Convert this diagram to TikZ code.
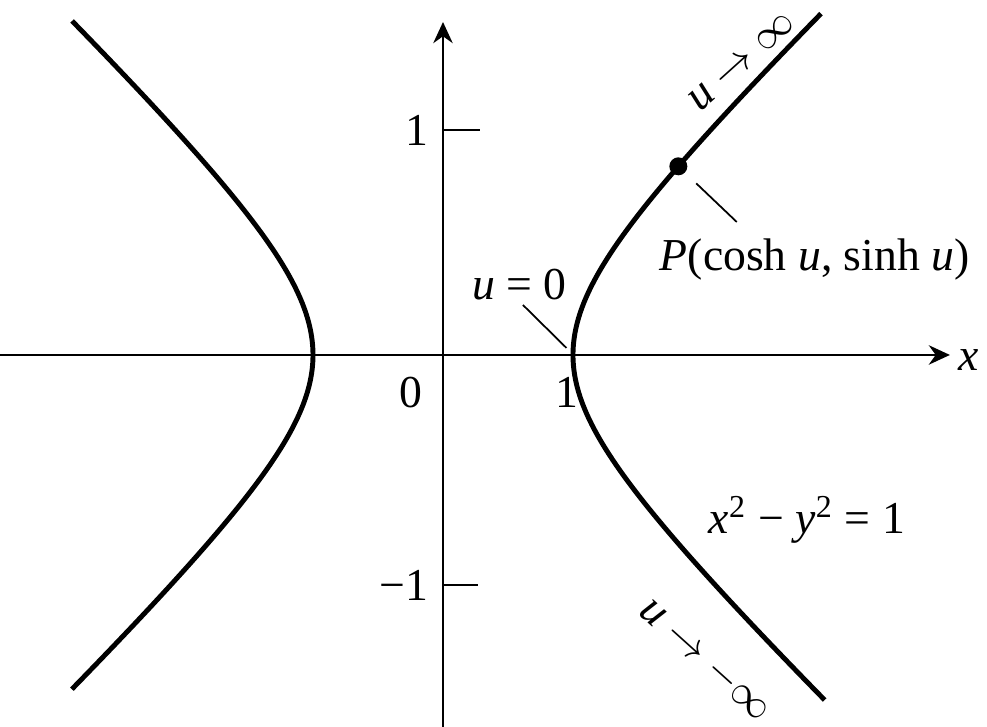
\documentclass[tikz,border=0pt]{standalone}
\usepackage{fontspec}
\setmainfont{Liberation Serif}
\usetikzlibrary{arrows.meta}
\tikzset{
  axis/.style={line width=0.8pt,-{Stealth[length=6pt,width=5.5pt]}},
  branch/.style={line width=1.4pt,samples=90,smooth,variable=\u},
  tickmark/.style={line width=0.8pt},
  leader/.style={line width=0.5pt},
  lbl/.style={font=\fontsize{13}{15}\selectfont,inner sep=1pt},
  dot/.style={circle,fill,inner sep=0pt,minimum size=0.18cm}
}
\newcommand{\var}[1]{\textit{#1}}

\begin{document}
\begin{tikzpicture}[x=1.3cm,y=1.25cm]
\useasboundingbox (-3.408,-2.976) rectangle (4.185,2.84);
% axes
\coordinate (xstart) at (-3.408,0);
\coordinate (xend) at (3.9,0);
\coordinate (ystart) at (0,-2.976);
\coordinate (yend) at (0,2.664);
\draw[axis] (xstart) -- (xend);
\draw[axis] (ystart) -- (yend);
\node[lbl,anchor=west] (xlabel) at (3.93,-0.04) {\var{x}};
\node[lbl] (ylabel) at (0.03,2.97) {\var{y}};
% ticks
\draw[tickmark] (0,1.8) -- (0.285,1.8);
\draw[tickmark] (0,-1.84) -- (0.27,-1.84);
\node[lbl] (tone) at (-0.2,1.8) {1};
\node[lbl] (tmone) at (-0.3,-1.84) {−1};
\node[lbl] (origin) at (-0.25,-0.3) {0};
\node[lbl] (xone) at (0.95,-0.3) {1};
% the two branches
\draw[branch] plot[domain=-1.74:1.73] ({cosh(\u)},{sinh(\u)});
\draw[branch] plot[domain=-1.71:1.71] ({-cosh(\u)},{sinh(\u)});
% point P
\node[dot] (P) at ({cosh(1.2)},{sinh(1.2)}) {};
\coordinate (ptip) at (2.26,1.064);
\draw[leader,shorten <=0.15cm] (P) -- (ptip);
\node[lbl] (plabel) at (2.86,0.76) {\var{P}(cosh \var{u}, sinh \var{u})};
% u = 0 at the vertex
\node[lbl] (uzero) at (0.59,0.56) {\var{u} = 0};
\coordinate (uzt) at (0.615,0.4);
\coordinate (uzv) at (0.95,0.056);
\draw[leader] (uzt) -- (uzv);
% limits along the branch
\node[lbl,rotate=42] (uplus) at (2.3,2.35) {\var{u} $\rightarrow\infty$};
\node[lbl,rotate=-42] (uminus) at (2.02,-2.44) {\var{u} $\rightarrow -\infty$};
\node[lbl] (eqn) at (2.8,-1.32) {\var{x}\textsuperscript{2} − \var{y}\textsuperscript{2} = 1};
\end{tikzpicture}
\end{document}
